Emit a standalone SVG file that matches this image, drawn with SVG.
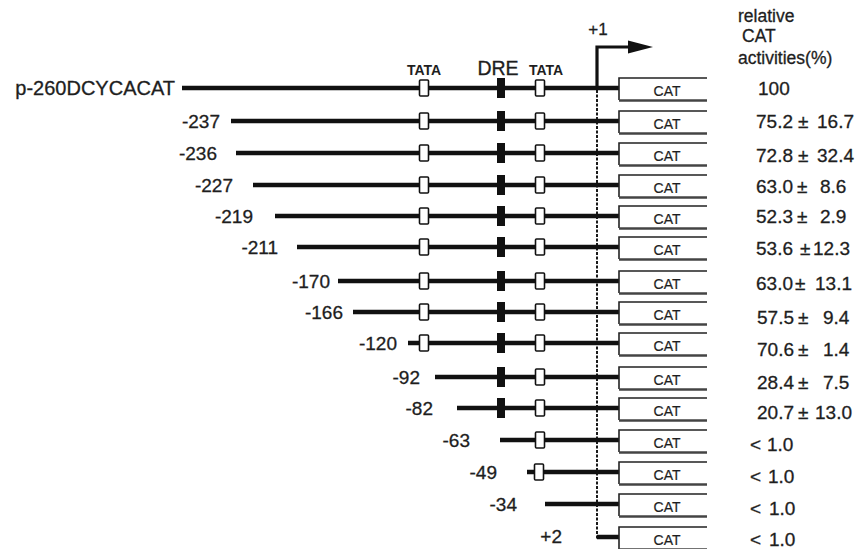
<svg xmlns="http://www.w3.org/2000/svg" width="861" height="549" viewBox="0 0 861 549">
<defs>
<style>
text{font-family:"Liberation Sans",Arial,sans-serif;fill:#1e1e1e;stroke:#1e1e1e;stroke-width:0.3}
.lbl{font-size:19px;text-anchor:end}
.val{font-size:19px}
.hdr{font-size:17.5px}
.cat{font-size:14px;text-anchor:middle;stroke-width:0.2}
.tl{font-size:14px;font-weight:bold;text-anchor:middle;stroke-width:0}
.dna{stroke:#111;stroke-width:4.5;fill:none}
.tata{fill:#fff;stroke:#111;stroke-width:1.6}
.dre{fill:#111;stroke:none}
.box{fill:none;stroke:#222;stroke-width:1.6}
.boxb{fill:none;stroke:#444;stroke-width:2.6}
</style>
<g id="tataBox"><rect x="-4.5" y="-8" width="9" height="16" rx="1" class="tata"/></g>
<g id="dreBox"><rect x="-4" y="-10" width="8" height="20" class="dre"/></g>
<g id="catBox">
<path d="M707,-10 H619 V12" class="box"/>
<path d="M619,12.5 H707" class="boxb"/>
<text x="667" y="8" class="cat">CAT</text>
</g>
</defs>
<rect width="861" height="549" fill="#fff"/>

<g id="header">
<text x="738" y="22" class="hdr">relative</text>
<text x="742" y="42" class="hdr">CAT</text>
<text x="738" y="64" class="hdr">activities(%)</text>
<text x="598" y="35" style="font-size:17px;text-anchor:middle">+1</text>
<text x="424" y="75" class="tl">TATA</text>
<text x="498" y="75" style="font-size:19.5px;text-anchor:middle">DRE</text>
<text x="546" y="75" class="tl">TATA</text>
</g>

<g id="connectors">
<path d="M597,90 V47 H632" stroke="#111" stroke-width="3.2" fill="none"/>
<path d="M628,40.5 L653,47 L628,53.5 Z" fill="#111"/>
<path d="M597,90 V539" stroke="#1a1a1a" stroke-width="2" stroke-dasharray="3 1.5" fill="none"/>
</g>

<g id="row0" transform="translate(0,88)">
<text x="175" y="7" class="lbl" style="font-size:20px">p-260DCYCACAT</text>
<path d="M182,0 H619" class="dna"/>
<use href="#tataBox" x="424"/><use href="#dreBox" x="501"/><use href="#tataBox" x="540"/>
<use href="#catBox"/>
<text y="7" class="val"><tspan x="758">100</tspan></text>
</g>
<g id="row1" transform="translate(0,121)">
<text x="220" y="7" class="lbl">-237</text>
<path d="M231,0 H619" class="dna"/>
<use href="#tataBox" x="424"/><use href="#dreBox" x="501"/><use href="#tataBox" x="540"/>
<use href="#catBox"/>
<text y="7" class="val"><tspan x="756">75.2</tspan><tspan x="798">±</tspan><tspan x="817">16.7</tspan></text>
</g>
<g id="row2" transform="translate(0,153)">
<text x="217" y="7" class="lbl">-236</text>
<path d="M236,0 H619" class="dna"/>
<use href="#tataBox" x="424"/><use href="#dreBox" x="501"/><use href="#tataBox" x="540"/>
<use href="#catBox"/>
<text y="9" class="val"><tspan x="756">72.8</tspan><tspan x="798">±</tspan><tspan x="817">32.4</tspan></text>
</g>
<g id="row3" transform="translate(0,185)">
<text x="233" y="7" class="lbl">-227</text>
<path d="M253,0 H619" class="dna"/>
<use href="#tataBox" x="424"/><use href="#dreBox" x="501"/><use href="#tataBox" x="540"/>
<use href="#catBox"/>
<text y="8" class="val"><tspan x="756">63.0</tspan><tspan x="797">±</tspan><tspan x="820">8.6</tspan></text>
</g>
<g id="row4" transform="translate(0,216)">
<text x="253" y="7" class="lbl">-219</text>
<path d="M275,0 H619" class="dna"/>
<use href="#tataBox" x="424"/><use href="#dreBox" x="501"/><use href="#tataBox" x="540"/>
<use href="#catBox"/>
<text y="7" class="val"><tspan x="756">52.3</tspan><tspan x="797">±</tspan><tspan x="820">2.9</tspan></text>
</g>
<g id="row5" transform="translate(0,247)">
<text x="278" y="7" class="lbl">-211</text>
<path d="M297,0 H619" class="dna"/>
<use href="#tataBox" x="424"/><use href="#dreBox" x="501"/><use href="#tataBox" x="540"/>
<use href="#catBox"/>
<text y="8" class="val"><tspan x="756">53.6</tspan><tspan x="800">±</tspan><tspan x="813">12.3</tspan></text>
</g>
<g id="row6" transform="translate(0,281)">
<text x="330" y="7" class="lbl">-170</text>
<path d="M338,0 H619" class="dna"/>
<use href="#tataBox" x="424"/><use href="#dreBox" x="501"/><use href="#tataBox" x="540"/>
<use href="#catBox"/>
<text y="9" class="val"><tspan x="756">63.0</tspan><tspan x="795">±</tspan><tspan x="815">13.1</tspan></text>
</g>
<g id="row7" transform="translate(0,312)">
<text x="343" y="7" class="lbl">-166</text>
<path d="M353,0 H619" class="dna"/>
<use href="#tataBox" x="424"/><use href="#dreBox" x="501"/><use href="#tataBox" x="540"/>
<use href="#catBox"/>
<text y="12" class="val"><tspan x="757">57.5</tspan><tspan x="798">±</tspan><tspan x="823">9.4</tspan></text>
</g>
<g id="row8" transform="translate(0,343)">
<text x="397" y="7" class="lbl">-120</text>
<path d="M408,0 H619" class="dna"/>
<use href="#tataBox" x="424"/><use href="#dreBox" x="501"/><use href="#tataBox" x="540"/>
<use href="#catBox"/>
<text y="13" class="val"><tspan x="757">70.6</tspan><tspan x="798">±</tspan><tspan x="823">1.4</tspan></text>
</g>
<g id="row9" transform="translate(0,377)">
<text x="420" y="7" class="lbl">-92</text>
<path d="M435,0 H619" class="dna"/>
<use href="#dreBox" x="501"/><use href="#tataBox" x="540"/>
<use href="#catBox"/>
<text y="12" class="val"><tspan x="757">28.4</tspan><tspan x="798">±</tspan><tspan x="823">7.5</tspan></text>
</g>
<g id="row10" transform="translate(0,408)">
<text x="433" y="7" class="lbl">-82</text>
<path d="M457,0 H619" class="dna"/>
<use href="#dreBox" x="501"/><use href="#tataBox" x="540"/>
<use href="#catBox"/>
<text y="11" class="val"><tspan x="757">20.7</tspan><tspan x="798">±</tspan><tspan x="815">13.0</tspan></text>
</g>
<g id="row11" transform="translate(0,440)">
<text x="470" y="7" class="lbl">-63</text>
<path d="M500,0 H619" class="dna"/>
<use href="#tataBox" x="540"/>
<use href="#catBox"/>
<text y="11" class="val"><tspan x="750">&lt;</tspan><tspan x="767">1.0</tspan></text>
</g>
<g id="row12" transform="translate(0,472)">
<text x="497" y="7" class="lbl">-49</text>
<path d="M527,0 H619" class="dna"/>
<use href="#tataBox" x="539"/>
<use href="#catBox"/>
<text y="11" class="val"><tspan x="750">&lt;</tspan><tspan x="768">1.0</tspan></text>
</g>
<g id="row13" transform="translate(0,504)">
<text x="517" y="7" class="lbl">-34</text>
<path d="M545,0 H619" class="dna"/>
<use href="#catBox"/>
<text y="11" class="val"><tspan x="750">&lt;</tspan><tspan x="769">1.0</tspan></text>
</g>
<g id="row14" transform="translate(0,537)">
<text x="562" y="6" class="lbl">+2</text>
<path d="M597,0 H619" class="dna"/>
<use href="#catBox"/>
<text y="9" class="val"><tspan x="750">&lt;</tspan><tspan x="769">1.0</tspan></text>
</g>
</svg>
